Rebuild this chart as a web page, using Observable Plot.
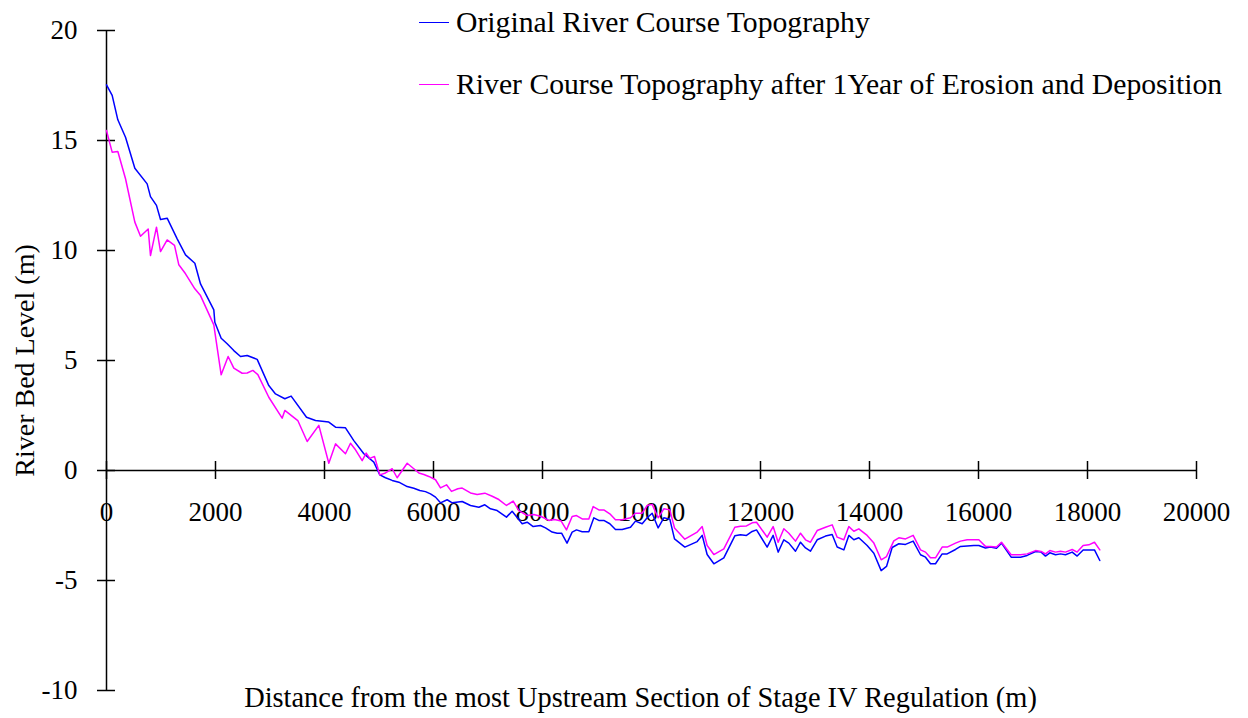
<!DOCTYPE html>
<html><head><meta charset="utf-8">
<script src="https://cdn.jsdelivr.net/npm/d3@7"></script>
<script src="https://cdn.jsdelivr.net/npm/@observablehq/plot@0.6"></script>
<style>
body{margin:0;background:#fff;font-family:"Liberation Serif",serif;}
#wrap{position:relative;width:1248px;height:718px;}
.item{position:absolute;left:419px;display:flex;align-items:center;white-space:nowrap;font-size:29.7px;line-height:30px;height:30px;color:#000;}
.swatch{width:30px;height:0;border-top:1.5px solid;margin-right:7px;}
</style></head><body><div id="wrap"></div>
<script>
const originalDistance = [0,104,208,349,520,746,807,917,991,1113,1297,1450,1621,1725,1969,1988,2104,2214,2336,2459,2581,2765,2978,3101,3272,3388,3670,3835,4079,4202,4385,4538,4722,4905,5015,5119,5242,5364,5517,5639,5749,5853,5945,6037,6128,6251,6343,6526,6679,6832,6942,7046,7168,7339,7443,7627,7719,7829,7963,8055,8177,8269,8350,8450,8544,8624,8728,8850,8942,9034,9125,9235,9339,9462,9615,9706,9829,9921,10012,10122,10226,10336,10422,10612,10838,10930,11021,11144,11327,11529,11633,11743,11847,11927,12122,12232,12324,12428,12520,12642,12734,12826,12917,13040,13193,13315,13407,13529,13621,13713,13804,13957,14080,14214,14312,14416,14538,14661,14801,14936,15028,15119,15211,15333,15425,15578,15670,15914,16006,16128,16220,16330,16422,16599,16771,16893,17046,17150,17229,17309,17413,17505,17596,17719,17810,17920,18128,18226];
const originalLevel = [17.53,17.05,15.94,15.15,13.74,13.03,12.45,12.05,11.41,11.47,10.53,9.8,9.42,8.48,7.3,6.74,6.01,5.76,5.45,5.18,5.23,5.05,3.86,3.48,3.26,3.38,2.42,2.27,2.2,1.97,1.94,1.36,0.76,0.38,-0.2,-0.33,-0.45,-0.53,-0.73,-0.81,-0.91,-0.96,-1.06,-1.21,-1.47,-1.33,-1.47,-1.41,-1.59,-1.67,-1.56,-1.74,-1.82,-2.12,-1.85,-2.42,-2.35,-2.55,-2.5,-2.61,-2.8,-2.85,-2.85,-3.3,-2.8,-2.7,-2.78,-2.78,-2.15,-2.27,-2.27,-2.42,-2.68,-2.68,-2.58,-2.3,-2.42,-2.15,-1.94,-2.61,-2.15,-2.21,-3.11,-3.48,-3.23,-2.95,-3.82,-4.24,-3.97,-2.97,-2.92,-2.95,-2.77,-2.7,-3.48,-2.95,-3.71,-3.15,-3.3,-3.67,-3.26,-3.52,-3.67,-3.15,-2.98,-2.91,-3.48,-3.61,-2.95,-3.15,-3.06,-3.41,-3.76,-4.55,-4.36,-3.5,-3.33,-3.36,-3.21,-3.83,-3.94,-4.24,-4.24,-3.79,-3.79,-3.59,-3.45,-3.41,-3.41,-3.52,-3.48,-3.53,-3.3,-3.94,-3.94,-3.86,-3.68,-3.71,-3.89,-3.74,-3.83,-3.79,-3.83,-3.71,-3.89,-3.61,-3.61,-4.09];
const erodedDistance = [0,104,208,349,520,624,765,807,917,991,1113,1248,1327,1450,1621,1725,1969,2104,2232,2336,2489,2581,2685,2777,2978,3223,3272,3510,3682,3896,4079,4202,4385,4477,4569,4691,4765,4832,4917,5015,5119,5242,5333,5517,5639,5731,5823,5914,6037,6128,6239,6330,6446,6526,6679,6801,6942,7077,7199,7339,7462,7566,7719,7841,7976,8116,8220,8343,8440,8544,8624,8728,8850,8930,9034,9125,9235,9339,9462,9615,9706,9829,9921,10012,10122,10226,10336,10422,10612,10838,10930,11021,11144,11327,11529,11633,11743,11847,11927,12122,12232,12324,12428,12520,12642,12734,12826,12917,13040,13193,13315,13407,13529,13621,13713,13804,13957,14080,14214,14312,14446,14538,14661,14801,14936,15028,15119,15211,15333,15425,15578,15670,15792,15914,16006,16128,16220,16330,16422,16599,16771,16893,17046,17150,17229,17309,17413,17505,17596,17719,17810,17920,18024,18128,18226];
const erodedLevel = [15.45,14.47,14.5,13.26,11.29,10.65,10.98,9.77,11.06,9.95,10.48,10.23,9.35,8.94,8.26,7.95,6.62,4.35,5.18,4.65,4.42,4.43,4.55,4.36,3.33,2.38,2.73,2.27,1.32,2.05,0.33,1.21,0.76,1.24,0.94,0.45,0.79,0.55,0.64,-0.2,-0.11,0.08,-0.33,0.33,0.08,-0.11,-0.18,-0.27,-0.42,-0.79,-0.65,-0.95,-0.83,-0.8,-1.02,-1.09,-1.03,-1.17,-1.32,-1.59,-1.39,-1.82,-2.05,-2.0,-2.09,-2.27,-2.23,-2.3,-2.7,-2.09,-2.05,-2.2,-2.2,-1.64,-1.79,-1.79,-1.97,-2.24,-2.24,-2.15,-1.94,-1.94,-1.59,-1.54,-2.15,-1.74,-1.79,-2.61,-3.12,-2.8,-2.55,-3.41,-3.82,-3.56,-2.58,-2.53,-2.52,-2.38,-2.35,-3.03,-2.55,-3.26,-2.65,-2.85,-3.21,-2.85,-3.15,-3.26,-2.73,-2.58,-2.47,-3.03,-3.15,-2.55,-2.76,-2.65,-2.95,-3.3,-4.06,-3.91,-3.2,-3.06,-3.11,-2.95,-3.61,-3.71,-3.97,-3.97,-3.48,-3.48,-3.3,-3.21,-3.15,-3.15,-3.15,-3.45,-3.45,-3.48,-3.26,-3.83,-3.83,-3.79,-3.64,-3.68,-3.79,-3.64,-3.71,-3.67,-3.71,-3.59,-3.71,-3.41,-3.38,-3.26,-3.61];
const xTicks = [0,2000,4000,6000,8000,10000,12000,14000,16000,18000,20000];
const yTicks = [-10,-5,0,5,10,15,20];
const seriesNames = ["Original River Course Topography","River Course Topography after 1Year of Erosion and Deposition"];
const seriesColors = ["#0000ff","#ff00ff"];
const xLabel = "Distance from the most Upstream Section of Stage IV Regulation (m)";
const yLabel = "River Bed Level (m)";

const rows = [
  ...originalDistance.map((d,i)=>({distance:d, level:originalLevel[i], series:seriesNames[0]})),
  ...erodedDistance.map((d,i)=>({distance:d, level:erodedLevel[i], series:seriesNames[1]}))
];

const chart = Plot.plot({
  width:1248, height:718,
  marginLeft:106, marginRight:52, marginTop:30, marginBottom:28,
  style:{fontFamily:"'Liberation Serif', serif", fontSize:"27px", color:"#000", background:"#fff"},
  x:{domain:[0,20000], axis:null},
  y:{domain:[-10,20], axis:null},
  color:{domain:seriesNames, range:seriesColors},
  marks:[
    Plot.ruleX([0],{stroke:"#000", strokeWidth:1.5}),
    Plot.ruleY([0],{stroke:"#000", strokeWidth:1.5}),
    Plot.axisY({ticks:yTicks, tickSize:18, dx:9, tickPadding:20, label:null, tickFormat:d=>String(d), fontSize:27, strokeWidth:1.5}),
    Plot.ruleX(xTicks,{x:d=>d, y1:0, y2:0, insetTop:-9, insetBottom:-9, stroke:"#000", strokeWidth:1.5}),
    Plot.text(xTicks,{x:d=>d, y:0, dy:42, text:d=>String(d), fontSize:27}),
    Plot.line(rows,{x:"distance", y:"level", z:"series", stroke:"series", strokeWidth:1.5}),
    Plot.text([xLabel],{frameAnchor:"bottom", lineAnchor:"middle", textAnchor:"middle", dy:7, dx:-11, fontSize:28.4}),
    Plot.text([yLabel],{frameAnchor:"left", textAnchor:"middle", lineAnchor:"middle", rotate:-90, dx:-81, fontSize:28})
  ]
});
const wrap = document.getElementById("wrap");
wrap.appendChild(chart);
const tops = [7, 69];
seriesNames.forEach((name,i)=>{
  const item = document.createElement("div");
  item.className = "item";
  item.style.top = tops[i] + "px";
  const sw = document.createElement("span");
  sw.className = "swatch";
  sw.style.borderColor = seriesColors[i];
  const tx = document.createElement("span");
  tx.textContent = name;
  item.appendChild(sw); item.appendChild(tx);
  wrap.appendChild(item);
});
</script></body></html>
